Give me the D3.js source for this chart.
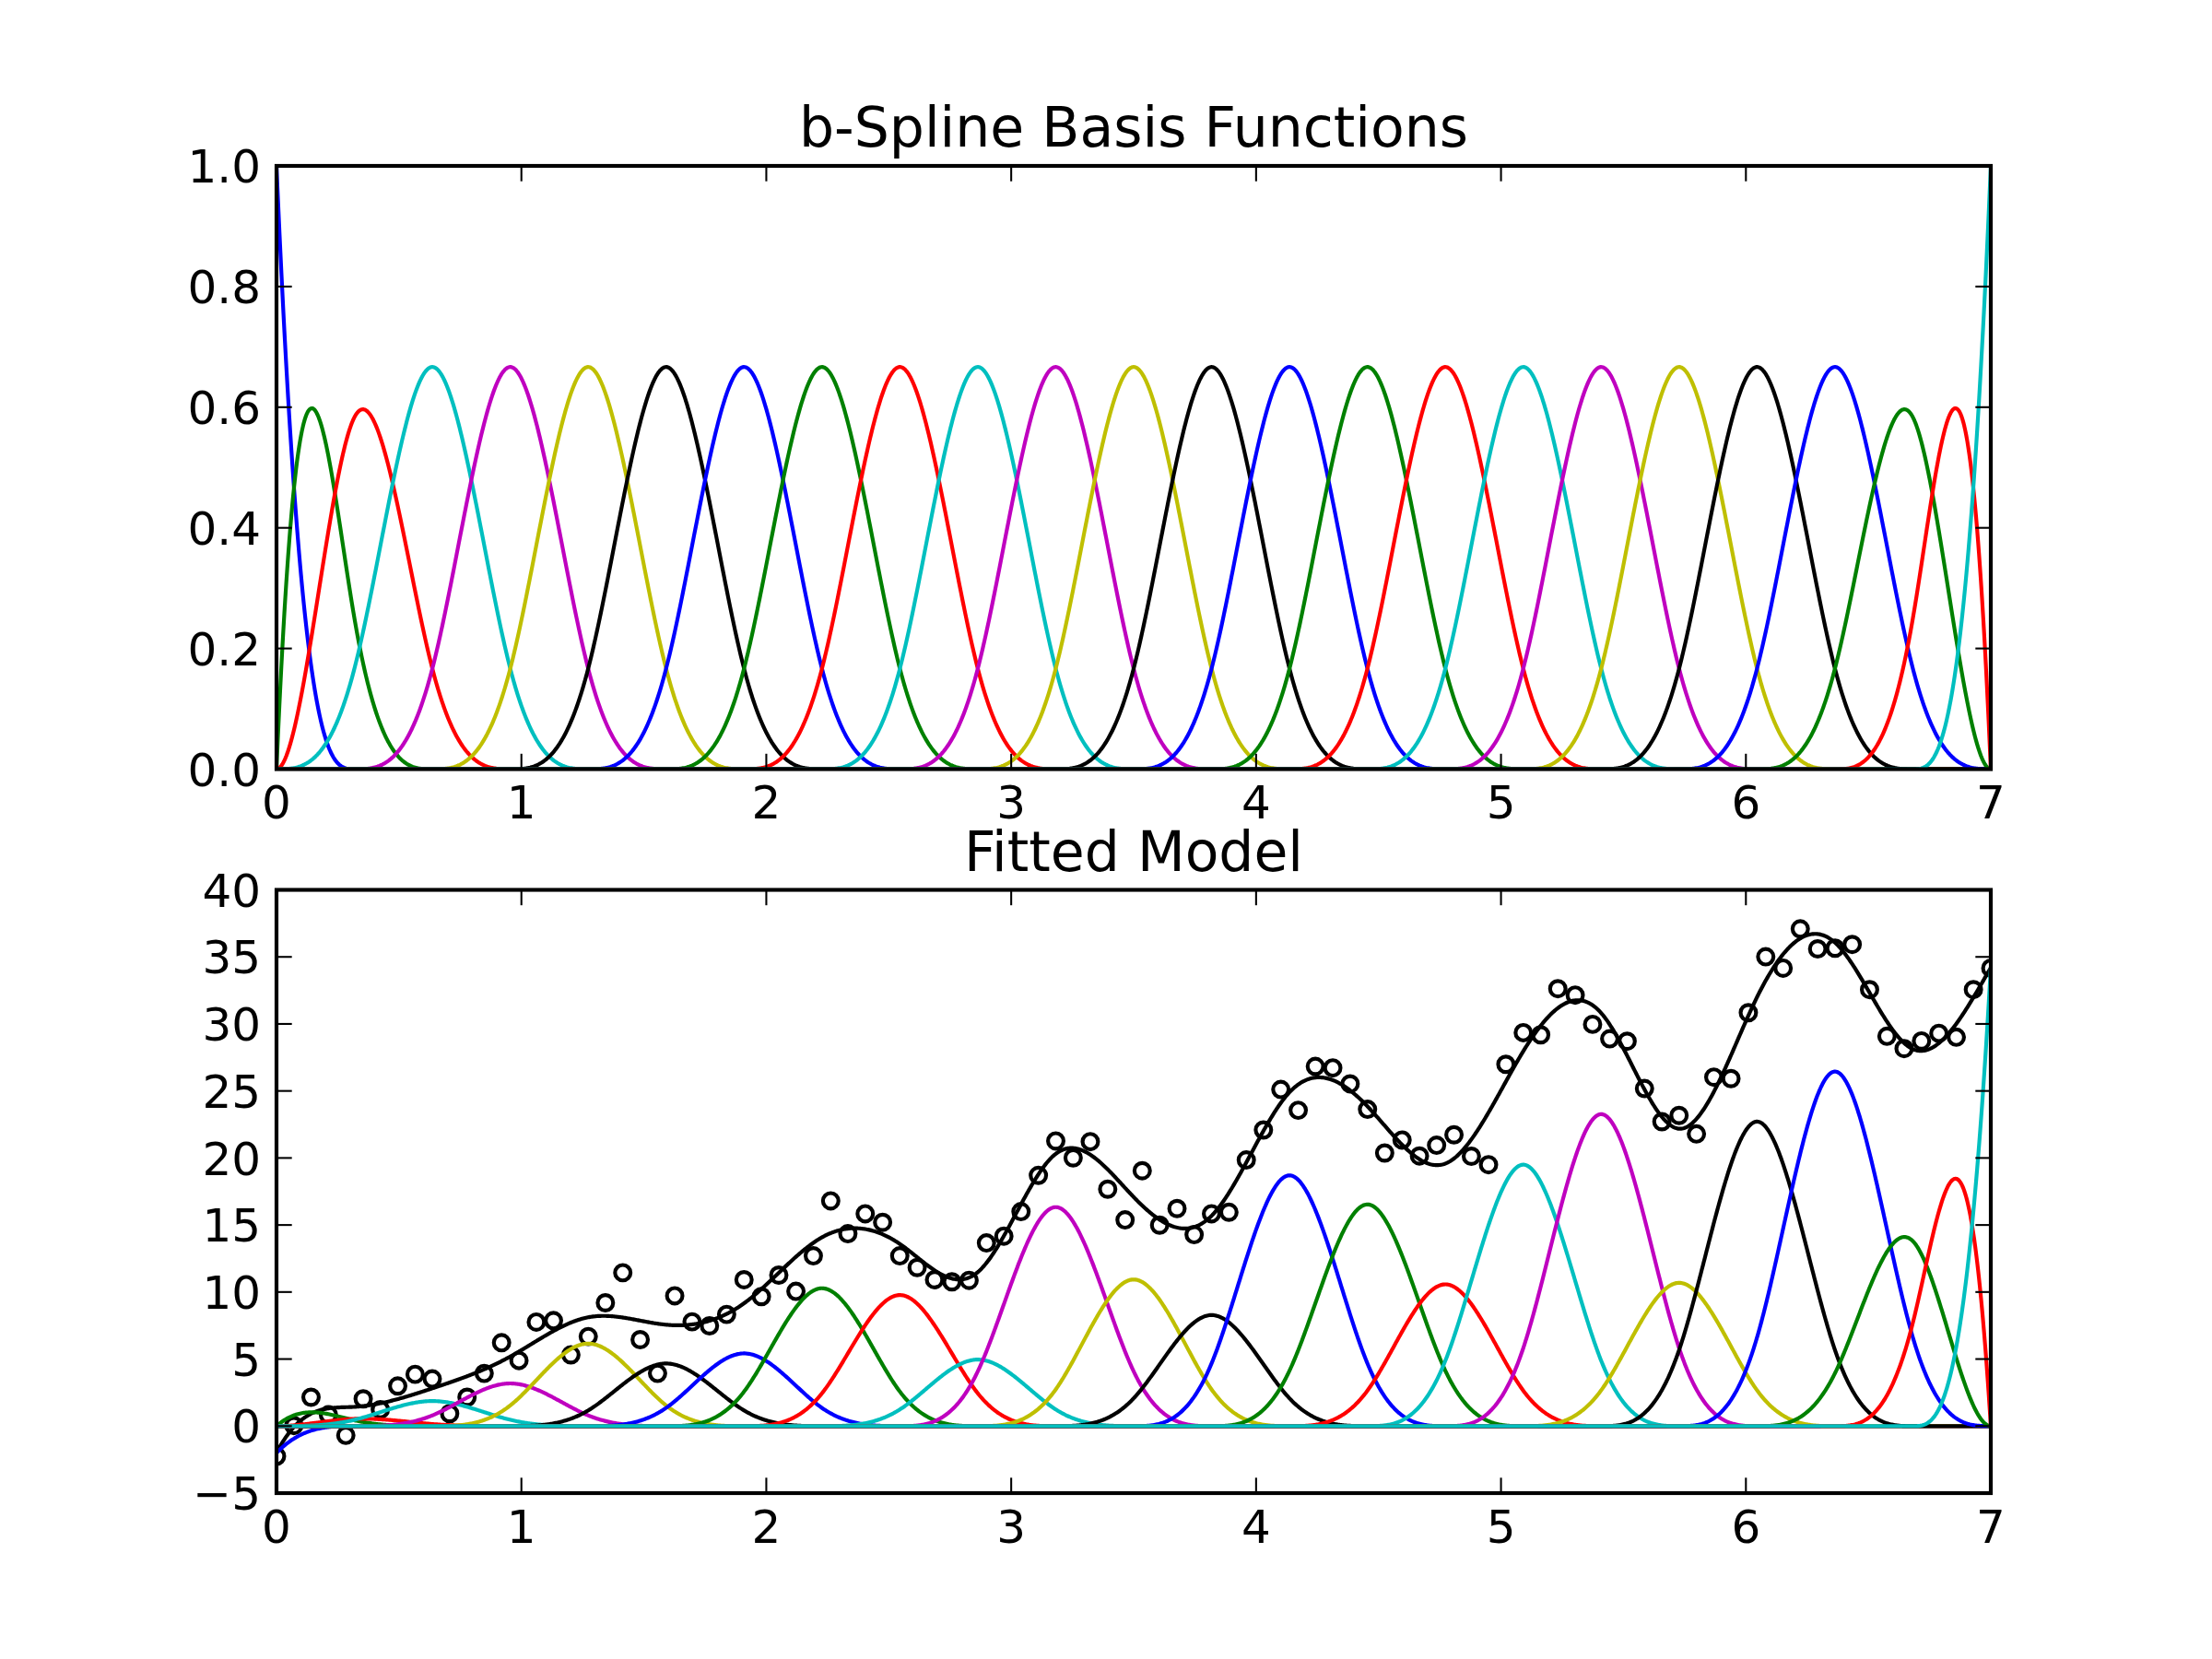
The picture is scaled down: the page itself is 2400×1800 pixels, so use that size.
<!DOCTYPE html>
<html><head><meta charset="utf-8">
<script src="https://cdn.jsdelivr.net/npm/d3@7"></script>
<style>
body{margin:0;background:#fff}
text{font-family:"DejaVu Sans",sans-serif;fill:#000}
</style>
</head><body>
<script>
// ---------------- DATA ----------------
// clamped cubic B-spline knot vector on [0, 7]
const knots = [0,0,0,0,
  0.3182,0.6364,0.9545,1.2727,1.5909,1.9091,2.2273,2.5455,2.8636,3.1818,3.5,
  3.8182,4.1364,4.4545,4.7727,5.0909,5.4091,5.7273,6.0455,6.3636,6.6818,
  7,7,7,7];
// fitted coefficients (one per basis function)
const coefficients = [-2.0,1.72,0.92,2.8,4.77,9.23,7.0,8.13,15.42,14.66,7.44,24.5,16.4,12.42,
  28.05,24.8,15.86,29.25,34.9,16.03,34.07,39.67,23.65,30.85,34.2];
// observed data points
const dataX = [0,0.071,0.141,0.212,0.283,0.354,0.424,0.495,0.566,0.636,0.707,0.778,0.848,0.919,0.990,
  1.061,1.131,1.202,1.273,1.343,1.414,1.485,1.556,1.626,1.697,1.768,1.838,1.909,1.980,2.051,
  2.121,2.192,2.263,2.333,2.404,2.475,2.545,2.616,2.687,2.758,2.828,2.899,2.970,3.040,3.111,
  3.182,3.253,3.323,3.394,3.465,3.535,3.606,3.677,3.747,3.818,3.889,3.960,4.030,4.101,4.172,
  4.242,4.313,4.384,4.455,4.525,4.596,4.667,4.737,4.808,4.879,4.949,5.020,5.091,5.162,5.232,
  5.303,5.374,5.444,5.515,5.586,5.657,5.727,5.798,5.869,5.939,6.010,6.081,6.152,6.222,6.293,
  6.364,6.434,6.505,6.576,6.646,6.717,6.788,6.859,6.929,7.000];
const dataY = [-2.25,0.04,2.15,0.84,-0.69,2.03,1.23,2.99,3.86,3.52,0.93,2.15,3.93,6.22,4.89,
  7.76,7.87,5.31,6.68,9.20,11.44,6.45,3.93,9.72,7.78,7.48,8.33,10.92,9.66,11.26,
  10.05,12.70,16.80,14.35,15.84,15.20,12.70,11.83,10.92,10.76,10.87,13.66,14.17,16.00,18.70,
  21.27,20.01,21.22,17.67,15.38,19.05,14.99,16.23,14.28,15.84,15.95,19.85,22.09,25.11,23.56,
  26.83,26.72,25.53,23.63,20.37,21.34,20.15,20.95,21.73,20.13,19.50,26.99,29.35,29.19,32.63,
  32.15,29.97,28.89,28.71,25.18,22.71,23.17,21.79,26.03,25.92,30.84,35.01,34.16,37.09,35.60,
  35.65,35.93,32.56,29.08,28.16,28.73,29.30,29.01,32.56,34.16];
const xTicks = [0,1,2,3,4,5,6,7];
const yTicksTop = [0,0.2,0.4,0.6,0.8,1.0];
const yTicksBottom = [-5,0,5,10,15,20,25,30,35,40];
const titles = ["b-Spline Basis Functions","Fitted Model"];

// ---------------- STYLE ----------------
const colorCycle = ["#0000ff","#008000","#ff0000","#00bfbf","#bf00bf","#bfbf00","#000000"];
const W = 2400, H = 1800;
const L = 300, R = 2160;
const topBox = {y0:180, y1:834.5};
const botBox = {y0:965.5, y1:1620};
const LW = 4.17, TICK = 16.7, TICKW = 2.08, FS = 50, TFS = 60;

// ---------------- B-spline evaluation (Cox-de Boor) ----------------
const nBasis = knots.length - 4;
function basisAll(x){
  const n = knots.length;
  let N = new Array(n-1).fill(0);
  const tEnd = knots[n-1];
  if (x >= tEnd) {
    let j = n-2; while (j>0 && !(knots[j] < knots[j+1])) j--; N[j] = 1;
  } else {
    for (let j=0;j<n-1;j++) N[j] = (knots[j] <= x && x < knots[j+1]) ? 1 : 0;
  }
  for (let d=1; d<=3; d++){
    const M = new Array(n-1-d).fill(0);
    for (let j=0;j<n-1-d;j++){
      const d1 = knots[j+d]-knots[j], d2 = knots[j+d+1]-knots[j+1];
      const a = d1>0 ? (x-knots[j])/d1*N[j] : 0;
      const b = d2>0 ? (knots[j+d+1]-x)/d2*N[j+1] : 0;
      M[j] = a+b;
    }
    N = M;
  }
  return N.slice(0, nBasis);
}

const samples = d3.range(0, 1751).map(i => 7*i/1750);
const B = samples.map(basisAll);

const svg = d3.select("body").append("svg").attr("width",W).attr("height",H)
  .style("background","#fff");

const x = d3.scaleLinear().domain([0,7]).range([L,R]);
const yTop = d3.scaleLinear().domain([0,1]).range([topBox.y1, topBox.y0]);
const yBot = d3.scaleLinear().domain([-5,40]).range([botBox.y1, botBox.y0]);

const defs = svg.append("defs");
function clip(id, box){
  defs.append("clipPath").attr("id",id).append("rect")
    .attr("x",L).attr("y",box.y0).attr("width",R-L).attr("height",box.y1-box.y0);
}
clip("cTop", topBox); clip("cBot", botBox);

// ---------- top panel ----------
const gTop = svg.append("g").attr("clip-path","url(#cTop)");
for (let k=0;k<nBasis;k++){
  const line = d3.line().x((d,i)=>x(samples[i])).y(d=>yTop(d[k]));
  gTop.append("path").datum(B).attr("d",line).attr("fill","none")
    .attr("stroke",colorCycle[k%7]).attr("stroke-width",LW).attr("stroke-linejoin","round");
}

// ---------- bottom panel ----------
const gBot = svg.append("g").attr("clip-path","url(#cBot)");
gBot.selectAll("circle").data(dataX).enter().append("circle")
  .attr("cx",d=>x(d)).attr("cy",(d,i)=>yBot(dataY[i])).attr("r",8.4)
  .attr("fill","none").attr("stroke","#000").attr("stroke-width",LW);
const fit = B.map(b => b.reduce((s,v,k)=>s+v*coefficients[k],0));
gBot.append("path").datum(fit)
  .attr("d", d3.line().x((d,i)=>x(samples[i])).y(d=>yBot(d)))
  .attr("fill","none").attr("stroke","#000").attr("stroke-width",LW);
for (let k=0;k<nBasis;k++){
  const line = d3.line().x((d,i)=>x(samples[i])).y(d=>yBot(d[k]*coefficients[k]));
  gBot.append("path").datum(B).attr("d",line).attr("fill","none")
    .attr("stroke",colorCycle[k%7]).attr("stroke-width",LW).attr("stroke-linejoin","round");
}

// ---------- axes ----------
function drawAxes(box, yScale, yTicks, fmt, title){
  const g = svg.append("g");
  xTicks.forEach(t=>{
    const px = x(t);
    g.append("line").attr("x1",px).attr("x2",px).attr("y1",box.y1).attr("y2",box.y1-TICK)
      .attr("stroke","#000").attr("stroke-width",TICKW);
    g.append("line").attr("x1",px).attr("x2",px).attr("y1",box.y0).attr("y2",box.y0+TICK)
      .attr("stroke","#000").attr("stroke-width",TICKW);
    g.append("text").attr("x",px).attr("y",box.y1+53.5).attr("text-anchor","middle")
      .attr("font-size",FS).text(String(t));
  });
  yTicks.forEach(t=>{
    const py = yScale(t);
    g.append("line").attr("x1",L).attr("x2",L+TICK).attr("y1",py).attr("y2",py)
      .attr("stroke","#000").attr("stroke-width",TICKW);
    g.append("line").attr("x1",R).attr("x2",R-TICK).attr("y1",py).attr("y2",py)
      .attr("stroke","#000").attr("stroke-width",TICKW);
    g.append("text").attr("x",L-17).attr("y",py+18.2).attr("text-anchor","end")
      .attr("font-size",FS).text(fmt(t));
  });
  g.append("rect").attr("x",L).attr("y",box.y0).attr("width",R-L).attr("height",box.y1-box.y0)
    .attr("fill","none").attr("stroke","#000").attr("stroke-width",LW);
  g.append("text").attr("x",(L+R)/2).attr("y",box.y0-20.8).attr("text-anchor","middle")
    .attr("font-size",TFS).text(title);
}
drawAxes(topBox, yTop, yTicksTop, d=>d.toFixed(1), titles[0]);
drawAxes(botBox, yBot, yTicksBottom, d=> d<0 ? "\u2212"+Math.abs(d) : String(d), titles[1]);
</script>
</body></html>
